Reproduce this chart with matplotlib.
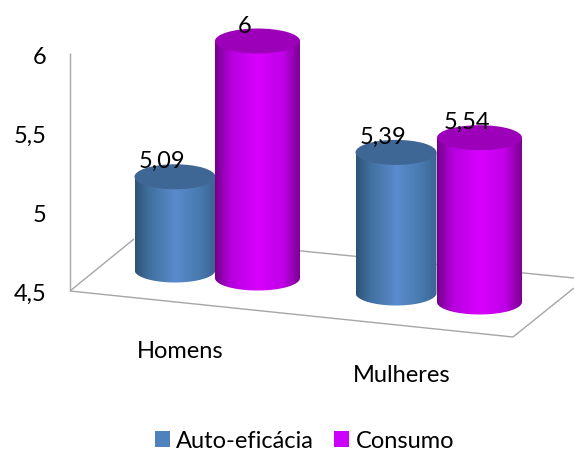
import numpy as np
import matplotlib
matplotlib.use("Agg")
import matplotlib.pyplot as plt
from matplotlib.colors import LinearSegmentedColormap
from matplotlib.patches import Ellipse, Patch, PathPatch
from matplotlib.path import Path
from matplotlib.transforms import ScaledTranslation

categories = ["Homens", "Mulheres"]
auto_eficacia = [5.09, 5.39]
consumo = [6.0, 5.54]
value_labels_auto = ["5,09", "5,39"]
value_labels_consumo = ["6", "5,54"]
y_ticks = [4.5, 5.0, 5.5, 6.0]
y_tick_labels = ["4,5", "5", "5,5", "6"]
series_names = ["Auto-eficácia", "Consumo"]

W, H = 574, 453
plt.rcParams["font.family"] = ["Lato", "DejaVu Sans"]
FS = 17

fig = plt.figure(figsize=(W / 100, H / 100), dpi=100)
ax = fig.add_axes([0, 0, 1, 1])

# scales: category 0 sits at 215 px, one category is 222 px; 4.5 sits at 291 px, one unit is 158 px
PX_CAT, PX_VAL = 222.0, 158.0
ax.set_xlim(-215 / PX_CAT, (W - 215) / PX_CAT)
ax.set_ylim(4.5 - (H - 291) / PX_VAL, 4.5 + 291 / PX_VAL)


def xp(px):
    return (px - 215) / PX_CAT


def yp(px):
    return 4.5 + (291 - px) / PX_VAL


def line(*pts):
    xs = [xp(p[0]) for p in pts]
    ys = [yp(p[1]) for p in pts]
    ax.plot(xs, ys, color="#A6A6A6", lw=1.0, zorder=1, solid_capstyle="butt")


# 3-D frame
line((70, 53), (70, 291))
line((70, 291), (513, 337))
line((70, 291), (134, 239))
line((150, 236), (574, 278))
line((513, 337), (574, 288))

blue_cmap = LinearSegmentedColormap.from_list(
    "b", [(0, "#2F5377"), (0.18, "#41719F"), (0.5, "#5A8BCD"), (0.8, "#487AAF"), (1, "#3A6390")])
mag_cmap = LinearSegmentedColormap.from_list(
    "m", [(0, "#74008A"), (0.18, "#B400DC"), (0.5, "#D800FF"), (0.8, "#C000E8"), (1, "#7C0092")])


def cylinder(cat, offset_px, width_px, value, base_shift_px, cmap, top_color, zorder):
    xc = cat + offset_px / PX_CAT
    w = width_px / PX_CAT
    base = 4.5 - base_shift_px / PX_VAL
    top = base + (value - 4.5)
    eh = 25 / PX_VAL
    # body: rectangle ending in a half ellipse at the floor
    t = np.linspace(np.pi, 2 * np.pi, 60)
    ex = xc + w / 2 * np.cos(t)
    ey = base + eh / 2 * np.sin(t)
    verts = [(xc - w / 2, top)] + list(zip(ex, ey)) + [(xc + w / 2, top), (xc - w / 2, top)]
    clip = PathPatch(Path(verts), transform=ax.transData, fc="none", ec="none")
    ax.add_patch(clip)
    grad = np.linspace(0, 1, 256).reshape(1, -1)
    im = ax.imshow(grad, cmap=cmap, aspect="auto", zorder=zorder, interpolation="bilinear",
                   extent=(xc - w / 2, xc + w / 2, base - eh / 2 - 0.01, top))
    im.set_clip_path(clip)
    ax.add_patch(Ellipse((xc, top), w, eh, fc=top_color, ec="none", zorder=zorder + 0.5))
    return xc, top


# floor shift of each bar below the left wall corner (perspective), in px
shifts = [[-21, -13], [2, 11]]
offsets = [[-40, 42.5], [-41, 42.5]]
widths = [81, 85]
zo = 2
for i in range(len(categories)):
    for j, (vals, cmap, tc, labs) in enumerate([
        (auto_eficacia, blue_cmap, "#3F6795", value_labels_auto),
        (consumo, mag_cmap, "#9C00B8", value_labels_consumo),
    ]):
        xc, top = cylinder(i, offsets[i][j], widths[j], vals[i], shifts[i][j], cmap, tc, zo)
        zo += 1
        ax.text(xc - 13 / PX_CAT, top + 15 / PX_VAL, labs[i], fontsize=FS, color="black",
                ha="center", va="center", zorder=20)

ax.set_xlim(-215 / PX_CAT, (W - 215) / PX_CAT)
ax.set_ylim(4.5 - (H - 291) / PX_VAL, 4.5 + 291 / PX_VAL)

# value axis labels, drawn inside the full-figure axes
ax.set_yticks(y_ticks)
ax.set_yticklabels(y_tick_labels, fontsize=FS, color="black")
ax.tick_params(axis="y", length=0, pad=-33.5)
shift_down = ScaledTranslation(0, -1.5 / 100, fig.dpi_scale_trans)
for lab in ax.get_yticklabels():
    lab.set_transform(lab.get_transform() + shift_down)
ax.set_xticks([])
for s in ax.spines.values():
    s.set_visible(False)

# category labels sit on the sloping floor
ax.text(xp(180), yp(352), categories[0], fontsize=FS, ha="center", va="center")
ax.text(xp(402), yp(376), categories[1], fontsize=FS, ha="center", va="center")

handles = [Patch(fc="#4F81BD", ec="none"), Patch(fc="#CC00FF", ec="none")]
ax.legend(handles, series_names, ncol=2, frameon=False, fontsize=FS,
          loc="center", bbox_to_anchor=(304.5 / W, 1 - 441 / H),
          handlelength=0.64, handleheight=0.64, handletextpad=0.27, columnspacing=0.85,
          borderpad=0, borderaxespad=0)

fig.savefig("out.png", dpi=100)
